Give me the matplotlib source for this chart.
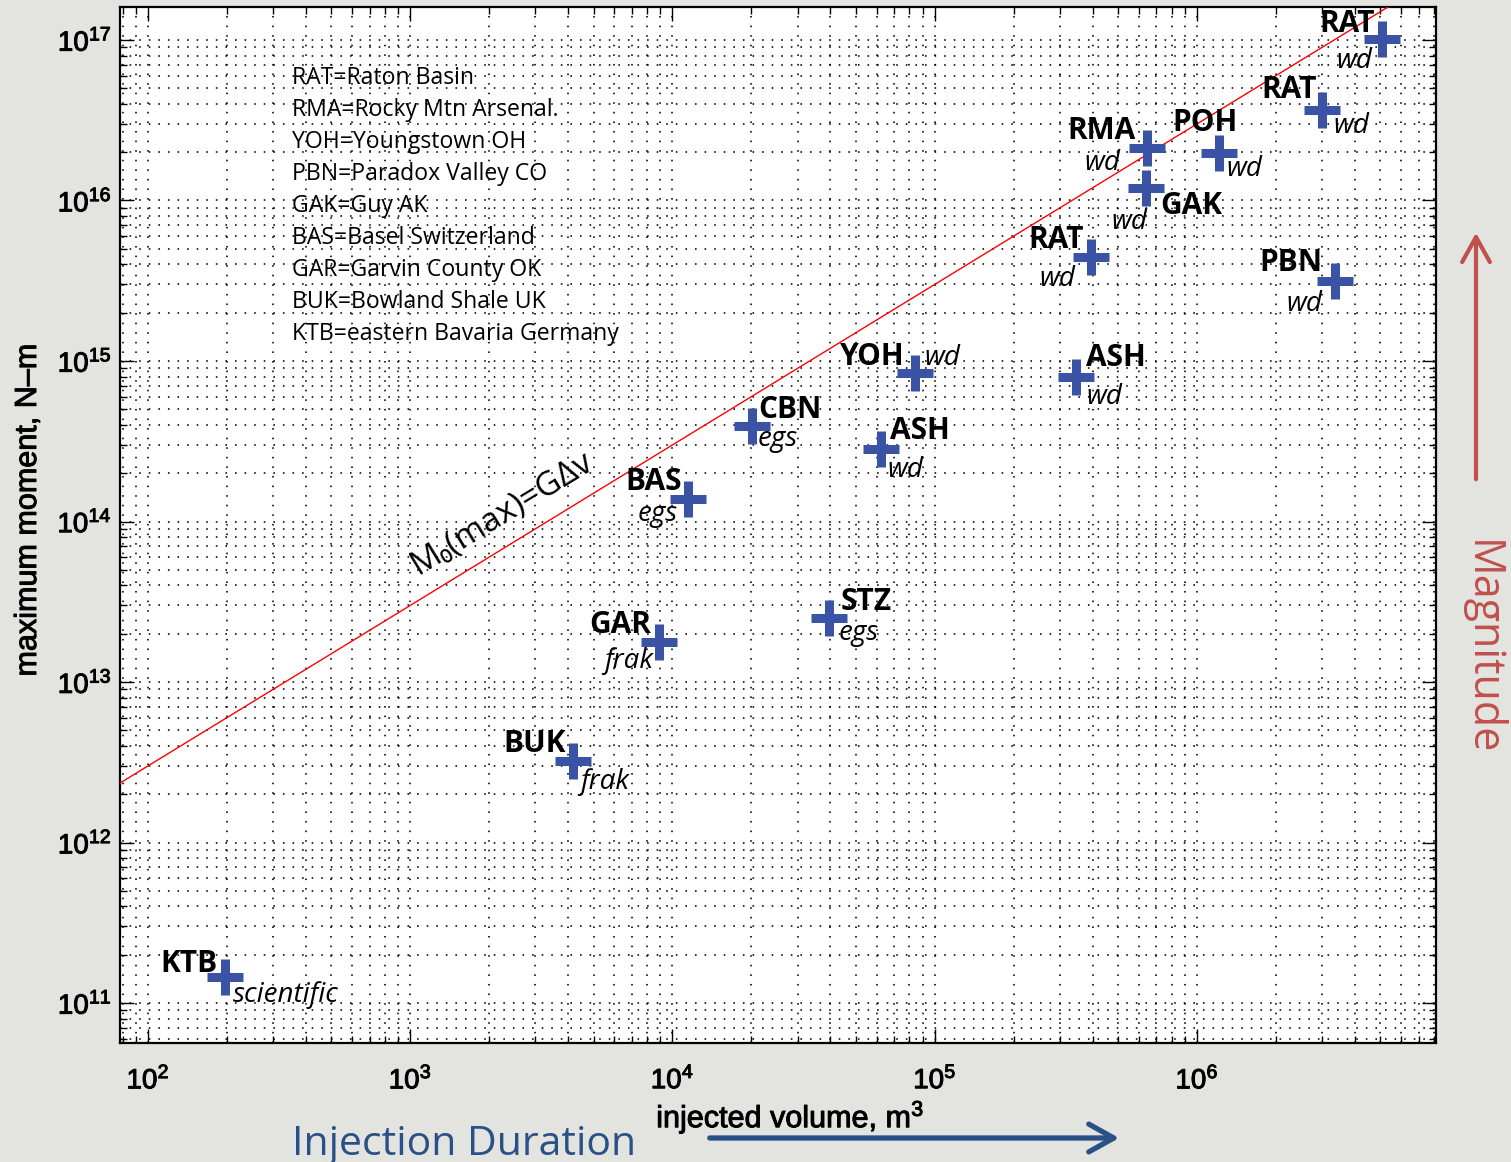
import numpy as np
import matplotlib
matplotlib.use("Agg")
import matplotlib.pyplot as plt
import matplotlib.patheffects as pe
from matplotlib.ticker import LogLocator, FuncFormatter, NullFormatter
from matplotlib.patches import FancyArrowPatch

plt.rcParams["font.family"] = ["Liberation Sans", "DejaVu Sans"]
plt.rcParams["mathtext.default"] = "regular"

# ---- data -------------------------------------------------------------
sites = ["KTB", "BUK", "GAR", "STZ", "BAS", "CBN", "ASH", "YOH",
         "ASH", "RAT", "RMA", "GAK", "POH", "RAT", "PBN", "RAT"]
injection_type = ["scientific", "frak", "frak", "egs", "egs", "egs", "wd", "wd",
                  "wd", "wd", "wd", "wd", "wd", "wd", "wd", "wd"]
volume_m3 = [197, 4175, 8880, 39500, 11460, 20100, 62400, 84000,
             345600, 394000, 645000, 639000, 1.21e6, 3.0e6, 3.36e6, 5.07e6]
max_moment_Nm = [1.45e11, 3.2e12, 1.77e13, 2.5e13, 1.39e14, 3.96e14, 2.81e14, 8.36e14,
                 8.0e14, 4.45e15, 2.11e16, 1.2e16, 1.99e16, 3.64e16, 3.15e15, 1.01e17]

site_key = ["RAT=Raton Basin", "RMA=Rocky Mtn Arsenal.", "YOH=Youngstown OH",
            "PBN=Paradox Valley CO", "GAK=Guy AK", "BAS=Basel Switzerland",
            "GAR=Garvin County OK", "BUK=Bowland Shale UK", "KTB=eastern Bavaria Germany"]

SHEAR_MODULUS = 3e10  # Pa, M0(max) = G * dV

x_decades = [2, 3, 4, 5, 6]
y_decades = [11, 12, 13, 14, 15, 16, 17]

# ---- label placement (pixel offsets from each marker) -----------------
code_offsets = [(-8, 5, "right"), (-7, 9, "right"), (-8, 9, "right"), (12, 8, "left"),
                (-6, 9, "right"), (6, 8, "left"), (9, 10, "left"), (-10, 8, "right"),
                (10, 11, "left"), (-7, 9, "right"), (-11, 9, "right"), (14, -26, "left"),
                (-14, 22, "center"), (-5, 12, "right"), (-13, 10, "right"), (-7, 7, "right")]
type_offsets = [(8, -25, "left"), (7, -28, "left"), (-6, -26, "right"), (10, -22, "left"),
                (-10, -22, "right"), (6, -20, "left"), (6, -28, "left"), (10, 8, "left"),
                (10, -27, "left"), (-16, -29, "right"), (-27, -22, "right"), (1, -41, "right"),
                (8, -23, "left"), (11, -23, "left"), (-13, -30, "right"), (-10, -29, "right")]

ANNOT_FONT = ["Open Sans", "DejaVu Sans"]
MARK_BLUE = "#3a53a5"
RED_NOTE = "#c0504d"
BLUE_NOTE = "#2a5088"
HEAVY = [pe.withStroke(linewidth=0.7, foreground="black")]

W, H = 1511, 1162
fig = plt.figure(figsize=(W / 100, H / 100), dpi=100, facecolor="#e3e3df")
ax = fig.add_axes([120 / W, 119 / H, 1316 / W, 1036 / H])
ax.set_facecolor("white")

ax.set_xscale("log")
ax.set_yscale("log")
ax.set_xlim(10 ** 1.8932, 10 ** 6.9114)
ax.set_ylim(10 ** 10.7508, 10 ** 17.2056)

ax.xaxis.set_minor_locator(LogLocator(base=10, subs=np.arange(2, 10), numticks=100))
ax.yaxis.set_minor_locator(LogLocator(base=10, subs=np.arange(2, 10), numticks=100))
ax.set_xticks([10.0 ** d for d in x_decades])
ax.set_yticks([10.0 ** d for d in y_decades])
fmt = FuncFormatter(lambda v, p: r"$10^{%d}$" % round(np.log10(v)))
ax.xaxis.set_major_formatter(fmt)
ax.yaxis.set_major_formatter(fmt)
ax.xaxis.set_minor_formatter(NullFormatter())
ax.yaxis.set_minor_formatter(NullFormatter())

ax.tick_params(which="both", direction="in", top=True, right=True, labelsize=20,
               colors="black")
ax.tick_params(which="major", length=10, width=1.0)
ax.tick_params(which="minor", length=5, width=1.0)
ax.tick_params(axis="x", which="major", pad=17)
ax.tick_params(axis="y", which="major", pad=6)
for lbl in ax.get_xticklabels() + ax.get_yticklabels():
    lbl.set_path_effects(HEAVY)
for s in ax.spines.values():
    s.set_linewidth(1.6)

ax.grid(True, which="both", linestyle=(0, (1, 5)), color="black", linewidth=1.15)
ax.set_axisbelow(True)

# reference line M0(max) = G dV
xl = np.array(ax.get_xlim())
ax.plot(xl, SHEAR_MODULUS * xl, color="red", linewidth=1.0, zorder=3)
p1 = ax.transData.transform((1e3, SHEAR_MODULUS * 1e3))
p2 = ax.transData.transform((1e5, SHEAR_MODULUS * 1e5))
ang = np.degrees(np.arctan2(p2[1] - p1[1], p2[0] - p1[0]))
ax.text(2250, 1.12e14, "M\u2080(max)=G\u0394v", rotation=ang, rotation_mode="anchor",
        ha="center", va="center", fontsize=24, family=ANNOT_FONT, zorder=5)

# sites
ax.plot(volume_m3, max_moment_Nm, linestyle="none", marker="+", markersize=26,
        markeredgewidth=6.5, color=MARK_BLUE, zorder=4)
for i, (v, m) in enumerate(zip(volume_m3, max_moment_Nm)):
    dx, dy, ha = code_offsets[i]
    ax.annotate(sites[i], (v, m), xytext=(dx, dy), textcoords="offset pixels",
                ha=ha, va="baseline", fontsize=21.5, fontweight="bold",
                family=ANNOT_FONT, zorder=6)
    dx, dy, ha = type_offsets[i]
    ax.annotate(injection_type[i], (v, m), xytext=(dx, dy), textcoords="offset pixels",
                ha=ha, va="baseline", fontsize=20, style="italic",
                family=ANNOT_FONT, zorder=6)

# site key
for k, line in enumerate(site_key):
    ax.text(0.1307, 0.9315 - k * 0.0309, line, transform=ax.transAxes,
            ha="left", va="center", fontsize=16.6, family=ANNOT_FONT, zorder=6)

ax.set_xlabel(r"injected volume, m$^3$", fontsize=22, path_effects=HEAVY)
ax.xaxis.set_label_coords((790 - 120) / 1316, -0.053)
ax.set_ylabel("maximum moment, N\u2013m", fontsize=22, path_effects=HEAVY)
ax.yaxis.set_label_coords(-0.0585, 0.514)

# side notes
fig.text(292 / W, 1 - 1155 / H, "Injection Duration", ha="left", va="baseline",
         fontsize=29.5, color=BLUE_NOTE, family=ANNOT_FONT)
fig.add_artist(FancyArrowPatch((707 / W, 1 - 1138 / H), (1122 / W, 1 - 1138 / H),
                               transform=fig.transFigure,
                               arrowstyle="->,head_length=9,head_width=5",
                               color=BLUE_NOTE, linewidth=3.8, mutation_scale=2))
fig.add_artist(FancyArrowPatch((1476 / W, 1 - 482 / H), (1476 / W, 1 - 230 / H),
                               transform=fig.transFigure,
                               arrowstyle="->,head_length=9,head_width=5",
                               color=RED_NOTE, linewidth=3.0, mutation_scale=2))
fig.text(1481 / W, 1 - 648 / H, "Magnitude", rotation=-90, ha="center", va="center",
         fontsize=31, color=RED_NOTE, family=ANNOT_FONT)

fig.savefig("out.png", dpi=100, facecolor=fig.get_facecolor())
